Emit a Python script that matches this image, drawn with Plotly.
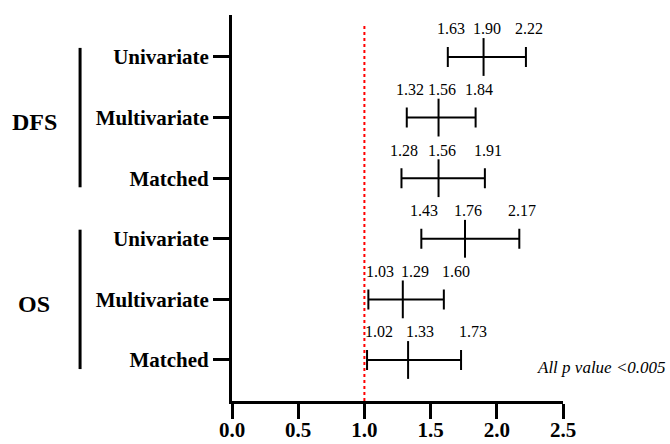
import plotly.graph_objects as go

# ---- data ----
groups = ["DFS", "OS"]
categories = ["Univariate", "Multivariate", "Matched", "Univariate", "Multivariate", "Matched"]
hr = [1.90, 1.56, 1.56, 1.76, 1.29, 1.33]
ci_low = [1.63, 1.32, 1.28, 1.43, 1.03, 1.02]
ci_high = [2.22, 1.84, 1.91, 2.17, 1.60, 1.73]
x_ticks = [0.0, 0.5, 1.0, 1.5, 2.0, 2.5]
ref_value = 1.0
note = "All p value <0.005"

n = len(categories)
ypos = list(range(n, 0, -1))  # top row = n

SERIF = "Liberation Serif"
fig = go.Figure()

fig.add_trace(go.Scatter(
    x=hr, y=ypos, mode="markers",
    marker=dict(symbol="line-ns", size=27, line=dict(width=2, color="black"), color="black"),
    error_x=dict(type="data", symmetric=False,
                 array=[h - m for h, m in zip(ci_high, hr)],
                 arrayminus=[m - l for m, l in zip(hr, ci_low)],
                 color="black", thickness=2, width=10),
    showlegend=False, hoverinfo="skip",
))

annotations = []
for i in range(n):
    # rows whose lower bound touches the reference line get their labels nudged right
    shift = 12 if abs(ci_low[i] - ref_value) < 0.1 else 3
    for v in (ci_low[i], hr[i], ci_high[i]):
        annotations.append(dict(
            x=v, y=ypos[i], xref="x", yref="y", text=f"{v:.2f}",
            showarrow=False, yshift=28, xshift=shift, xanchor="center",
            font=dict(family=SERIF, size=16, color="black"),
        ))

shapes = [dict(type="line", xref="x", yref="paper", x0=ref_value, x1=ref_value,
               y0=0, y1=0.977, line=dict(color="red", width=2, dash="dot"))]

# group brackets and labels
for g_i, g in enumerate(groups):
    rows = ypos[g_i * 3:(g_i + 1) * 3]
    top, bot = max(rows), min(rows)
    shapes.append(dict(type="line", xref="paper", yref="y", x0=-0.459, x1=-0.459,
                       y0=bot - 0.15, y1=top + 0.15, line=dict(color="black", width=3)))
    annotations.append(dict(
        x=-0.598, y=(top + bot) / 2 - 0.07, xref="paper", yref="y", text=g,
        showarrow=False, xanchor="center",
        font=dict(family=SERIF, size=24, color="black", weight="bold"),
    ))

annotations.append(dict(
    x=1.317, y=0.884, xref="paper", yref="y", text=note, showarrow=False,
    xanchor="right", font=dict(family=SERIF, size=17, color="black", style="italic"),
))

fig.update_layout(
    width=670, height=444,
    margin=dict(l=232, r=107, t=15, b=43, autoexpand=False),
    paper_bgcolor="white", plot_bgcolor="white",
    annotations=annotations, shapes=shapes,
    xaxis=dict(range=[0, 2.5], tickvals=x_ticks, tickformat=".1f", automargin=False,
               showgrid=False, zeroline=False, showline=True, linewidth=3, linecolor="black",
               ticks="outside", ticklen=15, tickwidth=3, tickcolor="black",
               ticklabelstandoff=-7,
               tickfont=dict(family=SERIF, size=21, color="black", weight="bold")),
    yaxis=dict(range=[0.323, 6.693], tickvals=ypos, ticktext=categories, automargin=False,
               showgrid=False, zeroline=False, showline=True, linewidth=3, linecolor="black",
               ticks="outside", ticklen=16, tickwidth=3, tickcolor="black",
               tickfont=dict(family=SERIF, size=21, color="black", weight="bold")),
)

fig.write_html("out.html", config={"displayModeBar": False},
               post_script="document.body.style.margin='0';document.body.style.overflow='hidden';")
